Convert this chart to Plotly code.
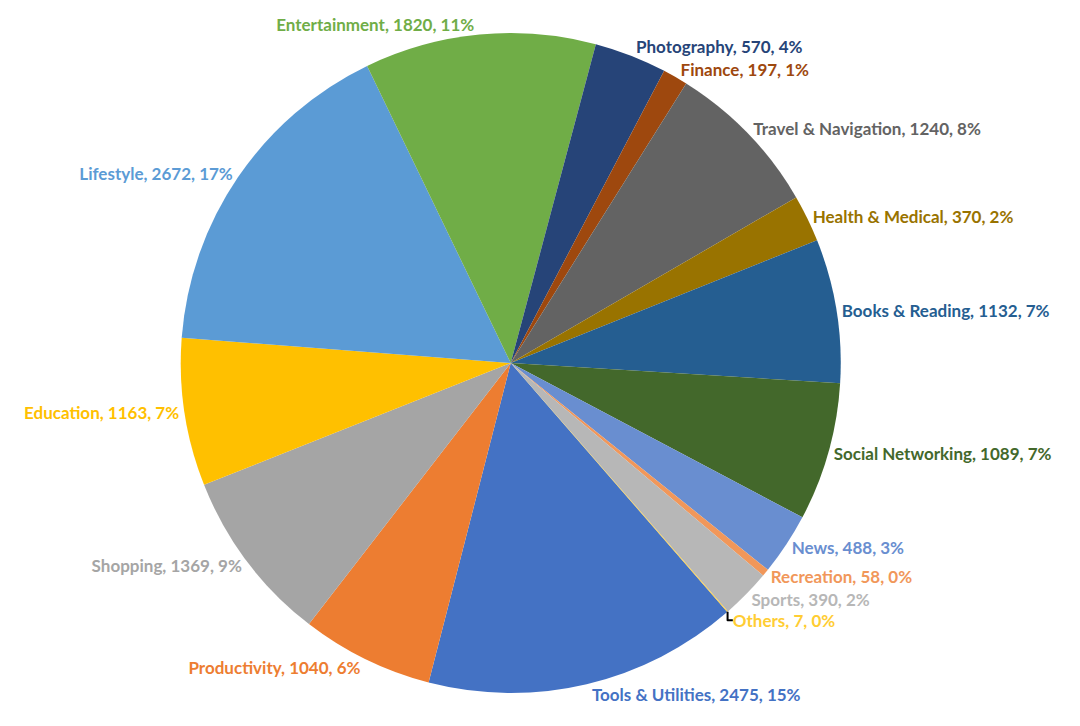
import plotly.graph_objects as go

# App categories, in the order the slices are drawn (clockwise)
categories = ["Tools & Utilities", "Productivity", "Shopping", "Education", "Lifestyle",
              "Entertainment", "Photography", "Finance", "Travel & Navigation",
              "Health & Medical", "Books & Reading", "Social Networking", "News",
              "Recreation", "Sports", "Others"]
counts = [2475, 1040, 1369, 1163, 2672, 1820, 570, 197, 1240, 370, 1132, 1089, 488, 58, 390, 7]
colors = ["#4472C4", "#ED7D31", "#A5A5A5", "#FFC000", "#5B9BD5", "#70AD47",
          "#264478", "#9E480E", "#636363", "#997300", "#255E91", "#43682B",
          "#698ED0", "#F1975A", "#B7B7B7", "#FFCD33"]

fig = go.Figure(go.Pie(
    labels=categories,
    values=counts,
    sort=False,
    direction="clockwise",
    rotation=139,
    marker=dict(colors=colors, line=dict(width=0)),
    textposition="outside",
    texttemplate="%{label}, %{value}, %{percent:.0%}",
    outsidetextfont=dict(family="Lato", size=17, color=colors, weight="bold"),
    automargin=False,
    showlegend=False,
    domain=dict(x=[0.0, 0.931], y=[0, 1]),
))

fig.update_layout(
    width=1080, height=726,
    margin=dict(l=0, r=0, t=25, b=41, autoexpand=False),
    paper_bgcolor="white",
    font=dict(family="Lato"),
)

fig.write_html("out.html")
